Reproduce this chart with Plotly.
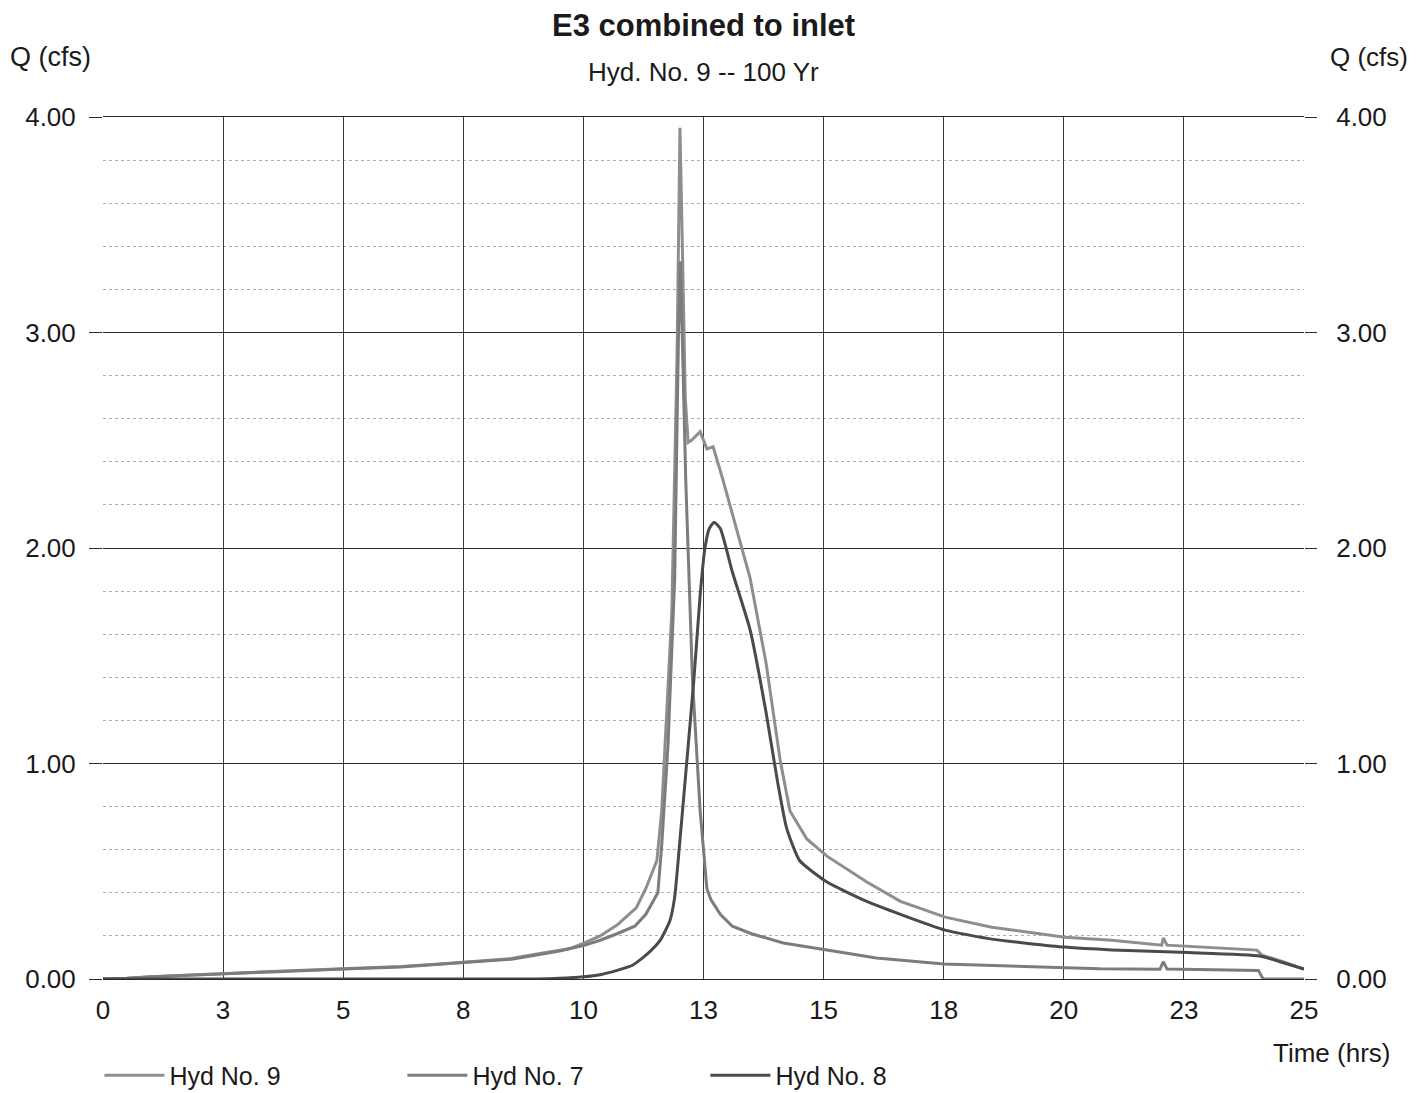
import plotly.graph_objects as go

# ---- data ----
x_tickvals = [0, 2.5, 5, 7.5, 10, 12.5, 15, 17.5, 20, 22.5, 25]
x_ticktext = ["0", "3", "5", "8", "10", "13", "15", "18", "20", "23", "25"]

hyd9_t = [0, 0.5, 1.0, 1.5, 2.5, 3.5, 5.0, 6.2, 7.0, 8.0, 8.5, 9.0, 9.7, 10.0, 10.35, 10.7,
          11.1, 11.3, 11.53, 11.63, 11.74, 11.84, 11.95, 12.01, 12.06, 12.12, 12.18, 12.25,
          12.43, 12.57, 12.7, 12.9, 13.47, 13.8, 14.1, 14.3, 14.65, 15.07, 15.9, 16.6, 17.53,
          18.5, 20.02, 21.0, 22.04, 22.07, 22.15, 24.02, 24.13, 24.5, 25.0]
hyd9_q = [0, 0.003, 0.01, 0.015, 0.028, 0.035, 0.048, 0.058, 0.07, 0.085, 0.095, 0.115, 0.14,
          0.165, 0.20, 0.25, 0.33, 0.42, 0.55, 0.78, 1.24, 1.70, 2.90, 3.95, 3.40, 2.70, 2.49,
          2.50, 2.54, 2.46, 2.47, 2.32, 1.86, 1.47, 1.01, 0.78, 0.65, 0.57, 0.45, 0.36, 0.287,
          0.24, 0.194, 0.18, 0.157, 0.19, 0.157, 0.134, 0.11, 0.085, 0.046]

hyd7_t = [0, 0.5, 1.0, 1.5, 2.5, 3.5, 5.0, 6.2, 7.0, 8.0, 8.5, 9.0, 9.5, 10.0, 10.35, 10.7,
          11.07, 11.3, 11.55, 11.63, 11.76, 11.9, 11.98, 12.02, 12.08, 12.13, 12.27, 12.43,
          12.57, 12.65, 12.85, 13.1, 13.5, 14.16, 15.2, 16.1, 17.5, 19.0, 20.0, 20.75, 22.0,
          22.07, 22.15, 24.05, 24.15, 25.0]
hyd7_q = [0, 0.003, 0.01, 0.015, 0.026, 0.033, 0.046, 0.056, 0.068, 0.084, 0.092, 0.11, 0.13,
          0.155, 0.18, 0.21, 0.245, 0.30, 0.40, 0.62, 1.08, 1.86, 3.00, 3.33, 2.80, 2.32, 1.39,
          0.78, 0.42, 0.37, 0.30, 0.245, 0.21, 0.167, 0.13, 0.097, 0.07, 0.058, 0.051, 0.047,
          0.045, 0.08, 0.046, 0.04, 0.0, 0.0]

hyd8_t = [0, 9.0, 9.5, 10.0, 10.35, 10.7, 11.03, 11.35, 11.6, 11.8, 11.9, 12.0, 12.18, 12.3,
          12.43, 12.53, 12.62, 12.72, 12.85, 13.1, 13.47, 13.8, 14.03, 14.23, 14.5, 15.07,
          15.9, 16.6, 17.53, 18.5, 20.02, 21.0, 22.6, 24.08, 24.5, 25.0]
hyd8_q = [0, 0.0, 0.003, 0.01, 0.02, 0.04, 0.065, 0.12, 0.18, 0.27, 0.38, 0.62, 1.08, 1.39,
          1.78, 2.00, 2.09, 2.12, 2.09, 1.89, 1.62, 1.24, 0.93, 0.70, 0.55, 0.45, 0.36, 0.30,
          0.227, 0.185, 0.148, 0.135, 0.123, 0.107, 0.08, 0.046]

series_names = ["Hyd No. 9", "Hyd No. 7", "Hyd No. 8"]
series_colors = ["#8e8e8e", "#7c7c7c", "#4a4a4a"]
series_shapes = ["linear", "linear", "spline"]

FONT = "Liberation Sans, Arial, Helvetica, sans-serif"
TXT = "#1a1a1a"

fig = go.Figure()
for name, t, q, c, shp in zip(series_names, [hyd9_t, hyd7_t, hyd8_t], [hyd9_q, hyd7_q, hyd8_q],
                              series_colors, series_shapes):
    line = dict(color=c, width=3, shape=shp)
    if shp == "spline":
        line["smoothing"] = 0.5
    fig.add_trace(go.Scatter(x=t, y=q, mode="lines", name=name, line=line))
# empty trace to activate the right-hand axis
fig.add_trace(go.Scatter(x=[], y=[], yaxis="y2", showlegend=False, hoverinfo="skip"))

# the page body has an 8px margin, so the figure is 8px smaller than the window
fig.update_layout(
    width=1408, height=1085,
    paper_bgcolor="white", plot_bgcolor="white",
    margin=dict(l=95, r=112, t=109, b=114, autoexpand=False),
    font=dict(family=FONT, size=25, color=TXT),
    showlegend=True,
    legend=dict(orientation="h", x=-0.003, xanchor="left", y=-0.112, yanchor="middle",
                entrywidth=228, entrywidthmode="pixels", font=dict(size=25, color=TXT),
                bgcolor="rgba(0,0,0,0)", itemwidth=60, tracegroupgap=0),
    xaxis=dict(range=[0, 25], tickvals=x_tickvals, ticktext=x_ticktext,
               showgrid=True, gridcolor="#3a3a3a", gridwidth=1,
               showline=True, linecolor="#2a2a2a", linewidth=1, mirror=True,
               zeroline=False, ticks="", ticklabelstandoff=8,
               tickfont=dict(size=26, color=TXT)),
    yaxis=dict(range=[0, 4], dtick=1, tick0=0, tickformat=".2f",
               showgrid=True, gridcolor="#2a2a2a", gridwidth=1,
               minor=dict(dtick=0.2, showgrid=True, gridcolor="#adadad", griddash="dot", gridwidth=1),
               zeroline=False, ticks="outside", ticklen=13, tickcolor="#2a2a2a",
               ticklabelstandoff=8, tickfont=dict(size=26, color=TXT)),
    yaxis2=dict(range=[0, 4], dtick=1, tick0=0, tickformat=".2f", overlaying="y", side="right",
                showgrid=False, zeroline=False, ticks="outside", ticklen=12, tickcolor="#2a2a2a",
                ticklabelstandoff=14, tickfont=dict(size=26, color=TXT)),
    annotations=[
        dict(text="<b>E3 combined to inlet</b>", xref="paper", yref="paper", x=0.5, y=1.1067,
             xanchor="center", yanchor="middle", showarrow=False, font=dict(size=31, color=TXT)),
        dict(text="Hyd. No. 9 -- 100 Yr", xref="paper", yref="paper", x=0.5, y=1.0522,
             xanchor="center", yanchor="middle", showarrow=False, font=dict(size=26, color=TXT)),
        dict(text="Q (cfs)", xref="paper", yref="paper", x=-0.0441, y=1.0696,
             xanchor="center", yanchor="middle", showarrow=False, font=dict(size=27, color=TXT)),
        dict(text="Q (cfs)", xref="paper", yref="paper", x=1.0880, y=1.0696,
             xanchor="right", yanchor="middle", showarrow=False, font=dict(size=26, color=TXT)),
        dict(text="Time (hrs)", xref="paper", yref="paper", x=1.0225, y=-0.0858,
             xanchor="center", yanchor="middle", showarrow=False, font=dict(size=26, color=TXT)),
    ],
)

fig.write_html("out.html")
